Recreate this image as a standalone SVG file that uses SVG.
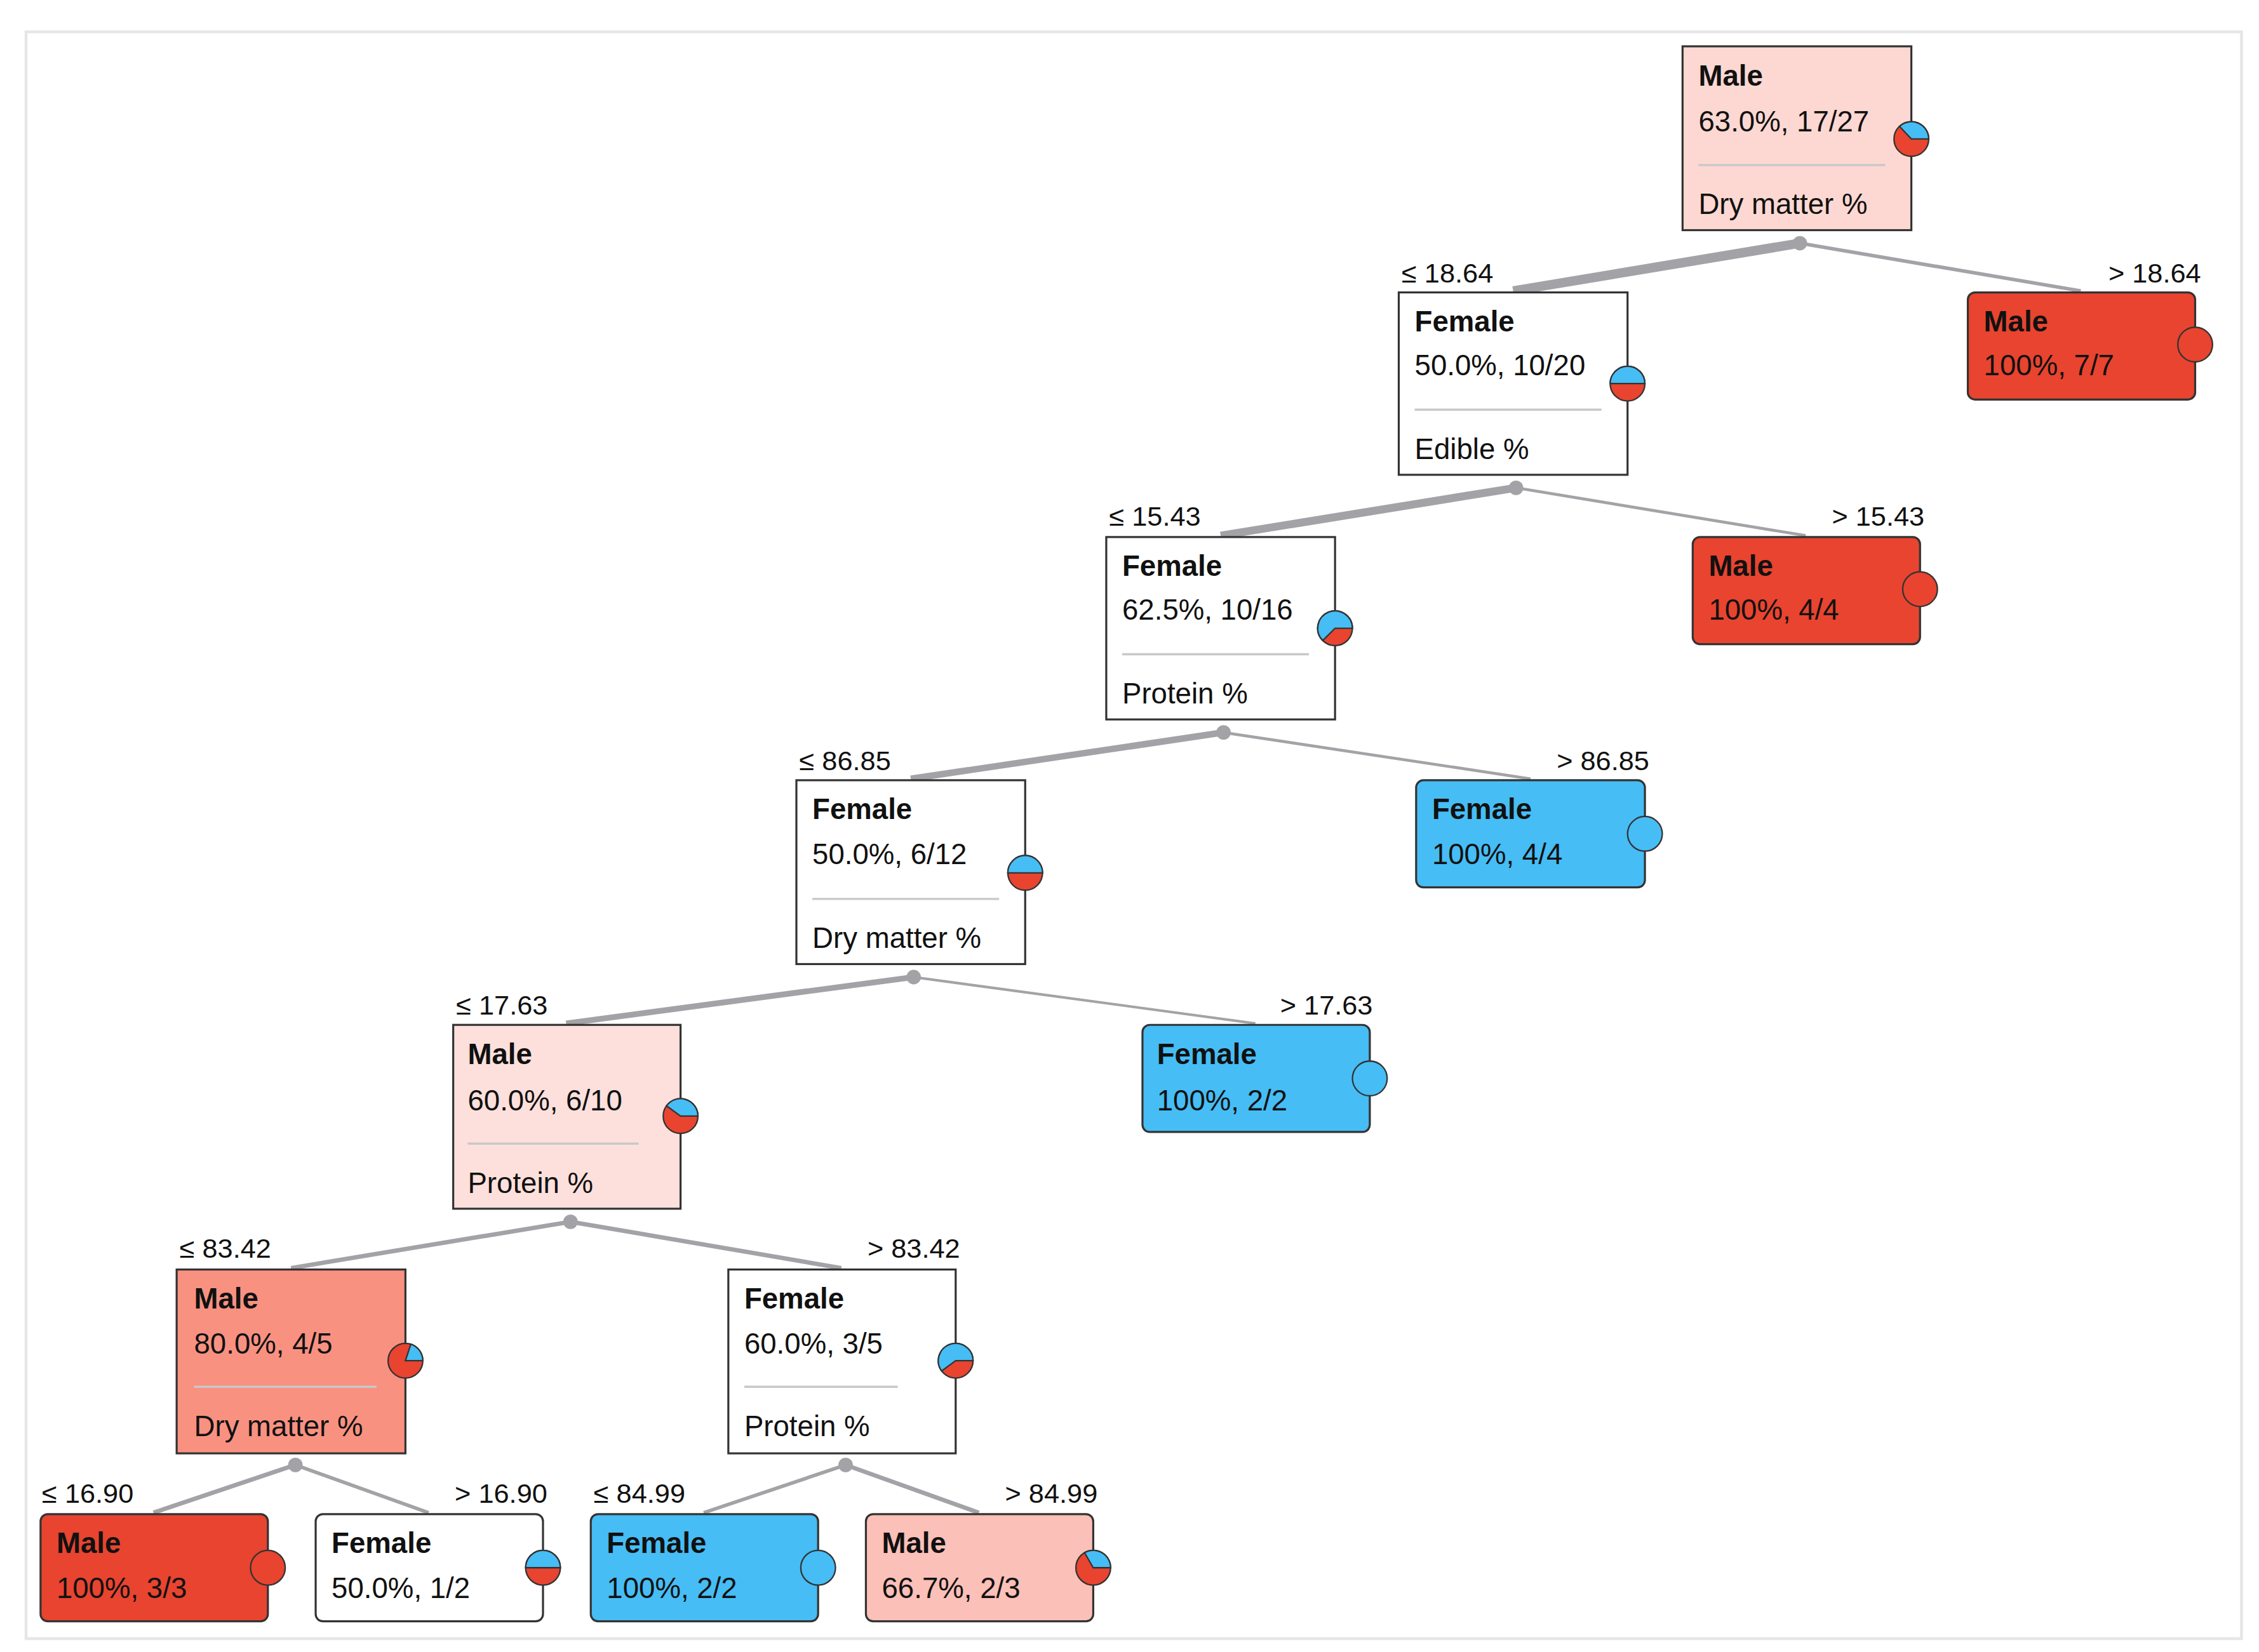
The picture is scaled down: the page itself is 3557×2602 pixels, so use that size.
<svg xmlns="http://www.w3.org/2000/svg" width="3557" height="2602" viewBox="0 0 3557 2602">
<style>
text{font-family:"Liberation Sans",Arial,sans-serif;font-size:20px;fill:#111}
.t{font-weight:bold}
.box{stroke:#333;stroke-width:1.4}
.sep{stroke:#c8c8c8;stroke-width:1.5}
.e{stroke:#a3a3a7;fill:none}
.dot{fill:#a3a3a7}
.r{fill:#e8442f;stroke:#333;stroke-width:1}
.b{fill:#46bdf5;stroke:#333;stroke-width:1}
.lbl{font-size:19px}
.end{text-anchor:end}
</style>
<rect width="3557" height="2602" fill="#fff"/>
<g transform="scale(2.28)">
<rect x="18" y="22" width="1530" height="1110" fill="none" stroke="#e6e6e6" stroke-width="2"/>
<g id="edges">
<line class="e" x1="1243" y1="168" x2="1045" y2="201" stroke-width="6.5"/>
<line class="e" x1="1243" y1="168" x2="1437" y2="201" stroke-width="2.5"/>
<line class="e" x1="1047" y1="337" x2="843" y2="370" stroke-width="5.5"/>
<line class="e" x1="1047" y1="337" x2="1247" y2="370" stroke-width="2"/>
<line class="e" x1="845" y1="506" x2="629" y2="538" stroke-width="4.5"/>
<line class="e" x1="845" y1="506" x2="1057" y2="538" stroke-width="2"/>
<line class="e" x1="631" y1="675" x2="391" y2="707" stroke-width="4"/>
<line class="e" x1="631" y1="675" x2="867" y2="707" stroke-width="1.8"/>
<line class="e" x1="394" y1="844" x2="201" y2="876" stroke-width="3"/>
<line class="e" x1="394" y1="844" x2="581" y2="876" stroke-width="3"/>
<line class="e" x1="204" y1="1012" x2="106" y2="1045" stroke-width="3"/>
<line class="e" x1="204" y1="1012" x2="296" y2="1045" stroke-width="2.5"/>
<line class="e" x1="584" y1="1012" x2="486" y2="1045" stroke-width="2.5"/>
<line class="e" x1="584" y1="1012" x2="676" y2="1045" stroke-width="3"/>
<circle class="dot" cx="1243" cy="168" r="5"/>
<circle class="dot" cx="1047" cy="337" r="5"/>
<circle class="dot" cx="845" cy="506" r="5"/>
<circle class="dot" cx="631" cy="675" r="5"/>
<circle class="dot" cx="394" cy="844" r="5"/>
<circle class="dot" cx="204" cy="1012" r="5"/>
<circle class="dot" cx="584" cy="1012" r="5"/>
<text class="lbl" x="968" y="195">≤ 18.64</text>
<text class="lbl end" x="1520" y="195">&gt; 18.64</text>
<text class="lbl" x="766" y="363">≤ 15.43</text>
<text class="lbl end" x="1329" y="363">&gt; 15.43</text>
<text class="lbl" x="552" y="532">≤ 86.85</text>
<text class="lbl end" x="1139" y="532">&gt; 86.85</text>
<text class="lbl" x="315" y="701">≤ 17.63</text>
<text class="lbl end" x="948" y="701">&gt; 17.63</text>
<text class="lbl" x="124" y="869">≤ 83.42</text>
<text class="lbl end" x="663" y="869">&gt; 83.42</text>
<text class="lbl" x="29" y="1038">≤ 16.90</text>
<text class="lbl end" x="378" y="1038">&gt; 16.90</text>
<text class="lbl" x="410" y="1038">≤ 84.99</text>
<text class="lbl end" x="758" y="1038">&gt; 84.99</text>
</g>
<g id="root">
<rect class="box" x="1162" y="32" width="158" height="127" fill="#fdd8d2"/>
<text class="t" x="1173" y="59">Male</text><text x="1173" y="91">63.0%, 17/27</text>
<line class="sep" x1="1173" y1="114" x2="1302" y2="114"/><text x="1173" y="148">Dry matter %</text>
<circle class="r" cx="1320" cy="96" r="12"/><path class="b" d="M1320 96 L1332 96 A12 12 0 0 0 1311.8 87.3 Z"/>
</g>
<g id="n1">
<rect class="box" x="966" y="202" width="158" height="126" fill="#fff"/>
<text class="t" x="977" y="229">Female</text><text x="977" y="259">50.0%, 10/20</text>
<line class="sep" x1="977" y1="283" x2="1106" y2="283"/><text x="977" y="317">Edible %</text>
<circle class="r" cx="1124" cy="265" r="12"/><path class="b" d="M1124 265 L1136 265 A12 12 0 0 0 1112 265 Z"/>
</g>
<g id="leaf1">
<rect class="box" x="1359" y="202" width="157" height="74" rx="5" fill="#e8442f"/>
<text class="t" x="1370" y="229">Male</text><text x="1370" y="259">100%, 7/7</text>
<circle class="r" cx="1516" cy="238" r="12"/>
</g>
<g id="n2">
<rect class="box" x="764" y="371" width="158" height="126" fill="#fff"/>
<text class="t" x="775" y="398">Female</text><text x="775" y="428">62.5%, 10/16</text>
<line class="sep" x1="775" y1="452" x2="904" y2="452"/><text x="775" y="486">Protein %</text>
<circle class="r" cx="922" cy="434" r="12"/><path class="b" d="M922 434 L934 434 A12 12 0 1 0 913.5 442.5 Z"/>
</g>
<g id="leaf2">
<rect class="box" x="1169" y="371" width="157" height="74" rx="5" fill="#e8442f"/>
<text class="t" x="1180" y="398">Male</text><text x="1180" y="428">100%, 4/4</text>
<circle class="r" cx="1326" cy="407" r="12"/>
</g>
<g id="n3">
<rect class="box" x="550" y="539" width="158" height="127" fill="#fff"/>
<text class="t" x="561" y="566">Female</text><text x="561" y="597">50.0%, 6/12</text>
<line class="sep" x1="561" y1="621" x2="690" y2="621"/><text x="561" y="655">Dry matter %</text>
<circle class="r" cx="708" cy="603" r="12"/><path class="b" d="M708 603 L720 603 A12 12 0 0 0 696 603 Z"/>
</g>
<g id="leaf3">
<rect class="box" x="978" y="539" width="158" height="74" rx="5" fill="#46bdf5"/>
<text class="t" x="989" y="566">Female</text><text x="989" y="597">100%, 4/4</text>
<circle class="b" cx="1136" cy="576" r="12"/>
</g>
<g id="n4">
<rect class="box" x="313" y="708" width="157" height="127" fill="#fde0dc"/>
<text class="t" x="323" y="735">Male</text><text x="323" y="767">60.0%, 6/10</text>
<line class="sep" x1="323" y1="790" x2="441" y2="790"/><text x="323" y="824">Protein %</text>
<circle class="r" cx="470" cy="771" r="12"/><path class="b" d="M470 771 L482 771 A12 12 0 0 0 460.3 763.9 Z"/>
</g>
<g id="leaf4">
<rect class="box" x="789" y="708" width="157" height="74" rx="5" fill="#46bdf5"/>
<text class="t" x="799" y="735">Female</text><text x="799" y="767">100%, 2/2</text>
<circle class="b" cx="946" cy="745" r="12"/>
</g>
<g id="n5">
<rect class="box" x="122" y="877" width="158" height="127" fill="#f99181"/>
<text class="t" x="134" y="904">Male</text><text x="134" y="935">80.0%, 4/5</text>
<line class="sep" x1="134" y1="958" x2="260" y2="958" stroke="#e3a89e"/><text x="134" y="992">Dry matter %</text>
<circle class="r" cx="280" cy="940" r="12"/><path class="b" d="M280 940 L292 940 A12 12 0 0 0 283.7 928.6 Z"/>
</g>
<g id="n6">
<rect class="box" x="503" y="877" width="157" height="127" fill="#fff"/>
<text class="t" x="514" y="904">Female</text><text x="514" y="935">60.0%, 3/5</text>
<line class="sep" x1="514" y1="958" x2="620" y2="958"/><text x="514" y="992">Protein %</text>
<circle class="r" cx="660" cy="940" r="12"/><path class="b" d="M660 940 L672 940 A12 12 0 1 0 650.3 947.1 Z"/>
</g>
<g id="leaf5">
<rect class="box" x="28" y="1046" width="157" height="74" rx="5" fill="#e8442f"/>
<text class="t" x="39" y="1073">Male</text><text x="39" y="1104">100%, 3/3</text>
<circle class="r" cx="185" cy="1083" r="12"/>
</g>
<g id="leaf6">
<rect class="box" x="218" y="1046" width="157" height="74" rx="5" fill="#fff"/>
<text class="t" x="229" y="1073">Female</text><text x="229" y="1104">50.0%, 1/2</text>
<circle class="r" cx="375" cy="1083" r="12"/><path class="b" d="M375 1083 L387 1083 A12 12 0 0 0 363 1083 Z"/>
</g>
<g id="leaf7">
<rect class="box" x="408" y="1046" width="157" height="74" rx="5" fill="#46bdf5"/>
<text class="t" x="419" y="1073">Female</text><text x="419" y="1104">100%, 2/2</text>
<circle class="b" cx="565" cy="1083" r="12"/>
</g>
<g id="leaf8">
<rect class="box" x="598" y="1046" width="157" height="74" rx="5" fill="#fbc0b7"/>
<text class="t" x="609" y="1073">Male</text><text x="609" y="1104">66.7%, 2/3</text>
<circle class="r" cx="755" cy="1083" r="12"/><path class="b" d="M755 1083 L767 1083 A12 12 0 0 0 749 1072.6 Z"/>
</g>
</g>
</svg>
